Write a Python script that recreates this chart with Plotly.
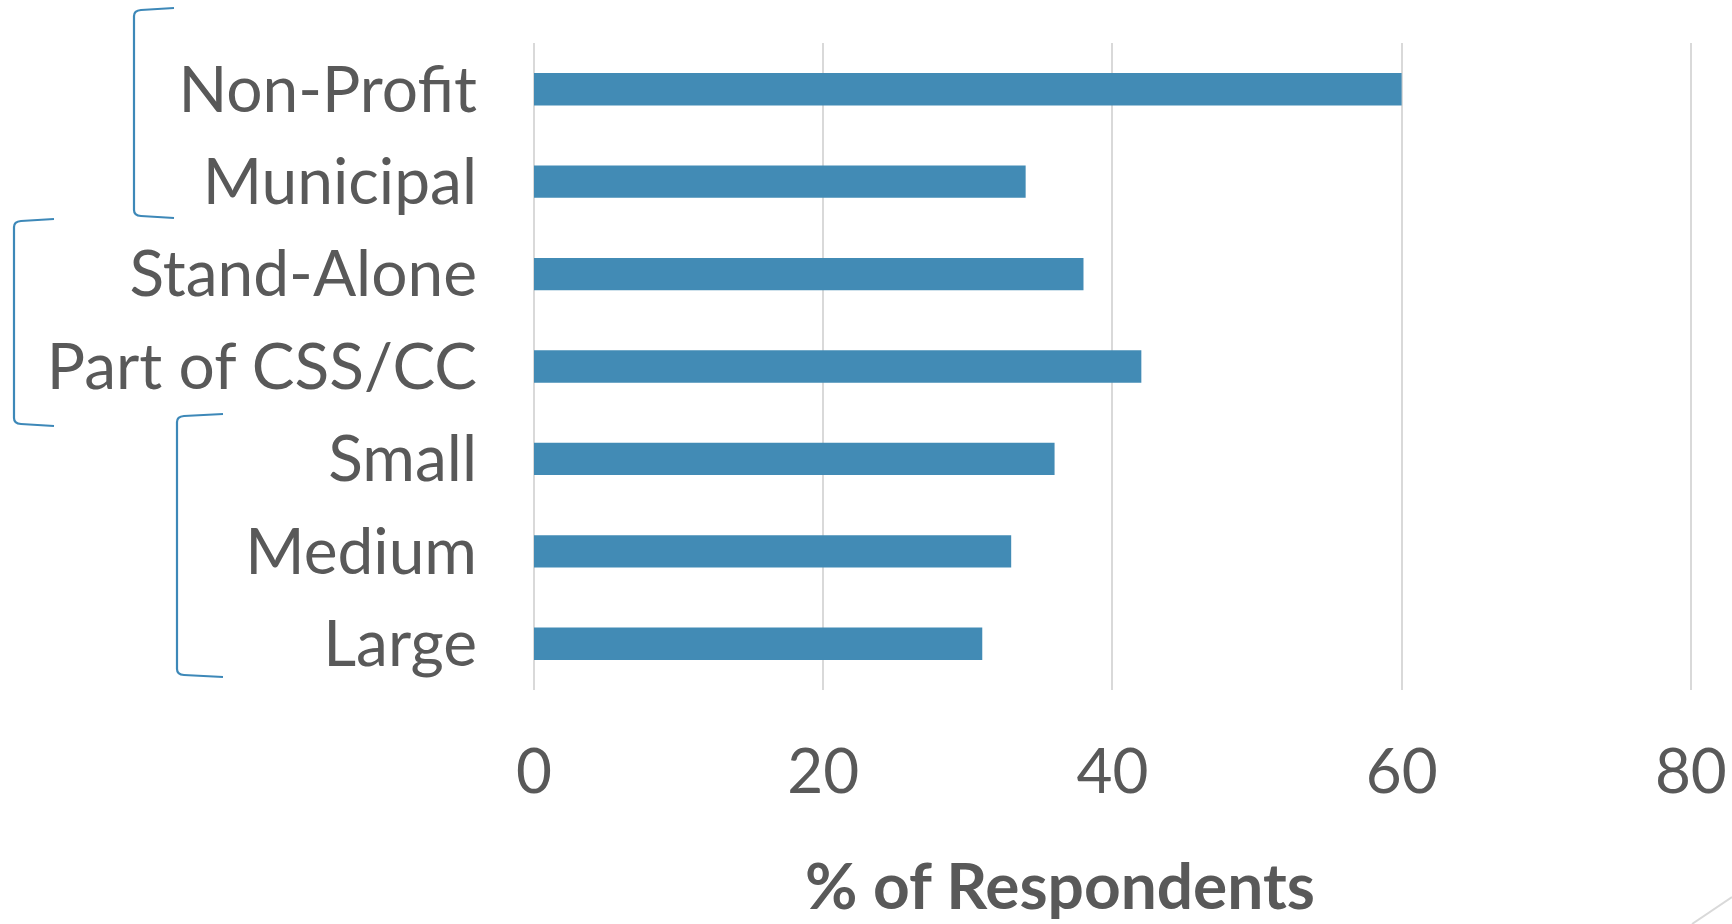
import plotly.graph_objects as go

categories = ["Non-Profit", "Municipal", "Stand-Alone", "Part of CSS/CC", "Small", "Medium", "Large"]
values = [60, 34, 38, 42, 36, 33, 31]
x_ticks = [0, 20, 40, 60, 80]
x_title = "% of Respondents"

W, H = 1732, 924
ML, MR, MT, MB = 534, 39, 43, 234
PW, PH = W - ML - MR, H - MT - MB

def px(x):
    return (x - ML) / PW

def py(y):
    return (H - MB - y) / PH

BAR = "#428BB5"
BRK = "#3D88B8"
TXT = "#595959"
GRID = "#D9D9D9"
FONT = "Lato"

fig = go.Figure(go.Bar(
    x=values, y=categories, orientation="h",
    marker=dict(color=BAR, line=dict(width=0)),
))

def bracket(xv, xe, yt, yb):
    pts = (f"M {px(xe)},{py(yt - 2)} L {px(xv + 7)},{py(yt)} "
           f"Q {px(xv)},{py(yt + 0.5)} {px(xv)},{py(yt + 6)} "
           f"L {px(xv)},{py(yb - 6)} "
           f"Q {px(xv)},{py(yb - 0.5)} {px(xv + 7)},{py(yb)} "
           f"L {px(xe)},{py(yb + 2)}")
    return dict(type="path", path=pts, xref="paper", yref="paper",
                line=dict(color=BRK, width=2.2), layer="above")

shapes = [
    bracket(134, 174, 10, 216),
    bracket(14, 54, 221, 424),
    bracket(177, 223, 416, 675),
    dict(type="line", xref="paper", yref="paper",
         x0=px(1732), y0=py(897), x1=px(1692), y1=py(924),
         line=dict(color=GRID, width=2)),
]

fig.update_layout(
    width=W, height=H,
    margin=dict(l=ML, r=MR, t=MT, b=MB, pad=0, autoexpand=False),
    paper_bgcolor="white", plot_bgcolor="white",
    bargap=0.65,
    showlegend=False,
    font=dict(family=FONT, color=TXT, size=64),
    xaxis=dict(
        range=[0, 80.15], tickvals=x_ticks, ticktext=[str(v) for v in x_ticks],
        showgrid=True, gridcolor=GRID, gridwidth=2,
        zeroline=True, zerolinecolor=GRID, zerolinewidth=2,
        showline=False, ticks="", ticklabelstandoff=40,
        tickfont=dict(family=FONT, color=TXT, size=62),
        automargin=False, fixedrange=True,
    ),
    yaxis=dict(
        categoryorder="array", categoryarray=categories,
        autorange="reversed",
        showgrid=False, zeroline=False, showline=False, ticks="",
        ticklabelstandoff=56, automargin=False,
        tickfont=dict(family=FONT, color=TXT, size=64),
    ),
    shapes=shapes,
    annotations=[dict(
        text=f"<b>{x_title}</b>", xref="paper", yref="paper",
        x=px(1060), y=py(884), xanchor="center", yanchor="middle",
        showarrow=False, font=dict(family=FONT, color=TXT, size=64),
    )],
)

fig.write_html("out.html")
